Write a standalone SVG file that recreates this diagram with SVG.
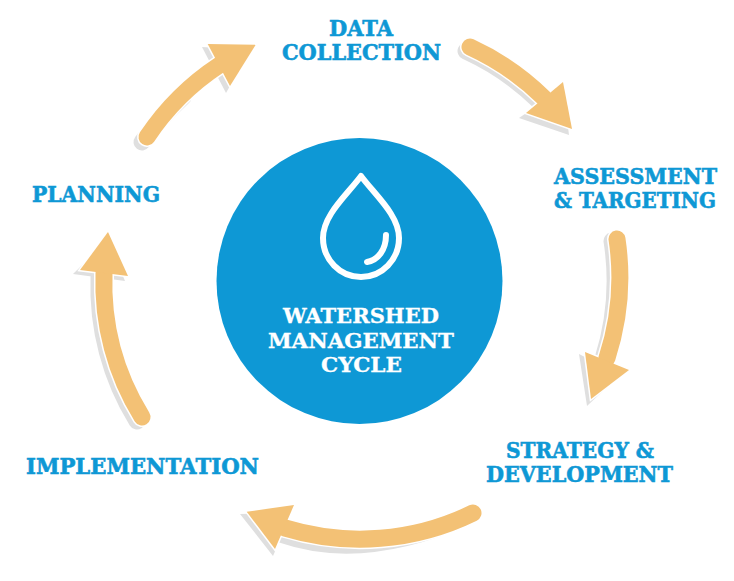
<svg xmlns="http://www.w3.org/2000/svg" width="734" height="581" viewBox="0 0 734 581">
  <defs>
    <style>
      .shaft { fill: none; stroke: #f3c175; stroke-width: 17; stroke-linecap: round; }
      .head { fill: #f3c175; }
      .shaft-shadow { fill: none; stroke: #dfdfdf; stroke-width: 17; stroke-linecap: round; }
      .head-shadow { fill: #dfdfdf; }
      .halo { fill: none; stroke: #ffffff; stroke-width: 20; stroke-linecap: round; }
      .head-halo { fill: #ffffff; stroke: #ffffff; stroke-width: 3; }
      .label { font-family: "DejaVu Serif", "Liberation Serif", serif; font-weight: bold; font-size: 22px; fill: #0e98d5; stroke: #0e98d5; stroke-width: 0.6; }
      .title { font-family: "DejaVu Serif", "Liberation Serif", serif; font-weight: bold; font-size: 21px; fill: #ffffff; stroke: #ffffff; stroke-width: 0.3; }
      .drop { fill: none; stroke: #ffffff; stroke-width: 6; stroke-linecap: round; stroke-linejoin: round; }
    </style>
  </defs>
  <rect width="734" height="581" fill="#ffffff"/>

  <g id="connectors">
    <!-- planning to data collection -->
    <g id="arrow-planning-data">
      <path class="shaft-shadow" d="M142 142 Q160 118 183 97"/>
      <polygon class="head-shadow" points="202,47 250,50 226,93"/>
      <path class="halo" d="M147 137 A257 257 0 0 1 219.500 65"/>
      <polygon class="head-halo" points="207.700,44 255.700,44.700 230,86"/>
      <path class="shaft" d="M147 137 A257 257 0 0 1 219.500 65"/>
      <polygon class="head" points="207.700,44 255.700,44.700 230,86"/>
    </g>
    <!-- data collection to assessment -->
    <g id="arrow-data-assessment">
      <path class="shaft-shadow" d="M466 51 A258 258 0 0 1 540 102"/>
      <polygon class="head-shadow" points="519,118 569,135 563,88"/>
      <path class="halo" d="M470 47 A258 258 0 0 1 544 98"/>
      <polygon class="head-halo" points="563,82 572,129 526,113"/>
      <path class="shaft" d="M470 47 A258 258 0 0 1 544 98"/>
      <polygon class="head" points="563,82 572,129 526,113"/>
    </g>
    <!-- assessment to strategy -->
    <g id="arrow-assessment-strategy">
      <path class="shaft-shadow" d="M612 241 A260 260 0 0 1 603 359"/>
      <polygon class="head-shadow" points="579,354 587,406 620,375"/>
      <path class="halo" d="M617 239 A260 260 0 0 1 607 358"/>
      <polygon class="head-halo" points="585,352 629,370 591,399"/>
      <path class="shaft" d="M617 239 A260 260 0 0 1 607 358"/>
      <polygon class="head" points="585,352 629,370 591,399"/>
    </g>
    <!-- strategy to implementation -->
    <g id="arrow-strategy-implementation">
      <path class="shaft-shadow" d="M471 515 Q363.500 563 282 534.500"/>
      <polygon class="head-shadow" points="240,514 273,556 292,512"/>
      <path class="halo" d="M473 513 A258 258 0 0 1 285 528"/>
      <polygon class="head-halo" points="294,505 246.700,511.700 275,549"/>
      <path class="shaft" d="M473 513 A258 258 0 0 1 285 528"/>
      <polygon class="head" points="294,505 246.700,511.700 275,549"/>
    </g>
    <!-- implementation to planning -->
    <g id="arrow-implementation-planning">
      <path class="shaft-shadow" d="M137 421 A256 256 0 0 1 99 277"/>
      <polygon class="head-shadow" points="73,274 125,281 108,240"/>
      <path class="halo" d="M142 417 A256 256 0 0 1 104 273"/>
      <polygon class="head-halo" points="108,232 128,276 80,270"/>
      <path class="shaft" d="M142 417 A256 256 0 0 1 104 273"/>
      <polygon class="head" points="108,232 128,276 80,270"/>
    </g>
  </g>

  <g id="node-centre">
    <circle cx="359.500" cy="281" r="143" fill="#0e98d5"/>
    <path class="drop" d="M361 176 C375 195 399 215 399 238 A38 39 0 1 1 323 238 C323 215 347 195 361 176 Z"/>
    <path class="drop" d="M386 235 C386 250 378 260 367 262"/>
    <text class="title" x="283" y="323" textLength="156" lengthAdjust="spacingAndGlyphs">WATERSHED</text>
    <text class="title" x="268" y="348" textLength="186" lengthAdjust="spacingAndGlyphs">MANAGEMENT</text>
    <text class="title" x="321" y="372" textLength="81" lengthAdjust="spacingAndGlyphs">CYCLE</text>
  </g>

  <g id="node-data-collection">
    <text class="label" x="329" y="35.500" textLength="64" lengthAdjust="spacingAndGlyphs">DATA</text>
    <text class="label" x="282" y="60" textLength="159" lengthAdjust="spacingAndGlyphs">COLLECTION</text>
  </g>
  <g id="node-assessment">
    <text class="label" x="554" y="184" textLength="163" lengthAdjust="spacingAndGlyphs">ASSESSMENT</text>
    <text class="label" x="554" y="208" textLength="162" lengthAdjust="spacingAndGlyphs">&amp; TARGETING</text>
  </g>
  <g id="node-strategy">
    <text class="label" x="506" y="458" textLength="148" lengthAdjust="spacingAndGlyphs">STRATEGY &amp;</text>
    <text class="label" x="486" y="482" textLength="187" lengthAdjust="spacingAndGlyphs">DEVELOPMENT</text>
  </g>
  <g id="node-implementation">
    <text class="label" x="26" y="474" textLength="233" lengthAdjust="spacingAndGlyphs">IMPLEMENTATION</text>
  </g>
  <g id="node-planning">
    <text class="label" x="32" y="202" textLength="128" lengthAdjust="spacingAndGlyphs">PLANNING</text>
  </g>
</svg>
